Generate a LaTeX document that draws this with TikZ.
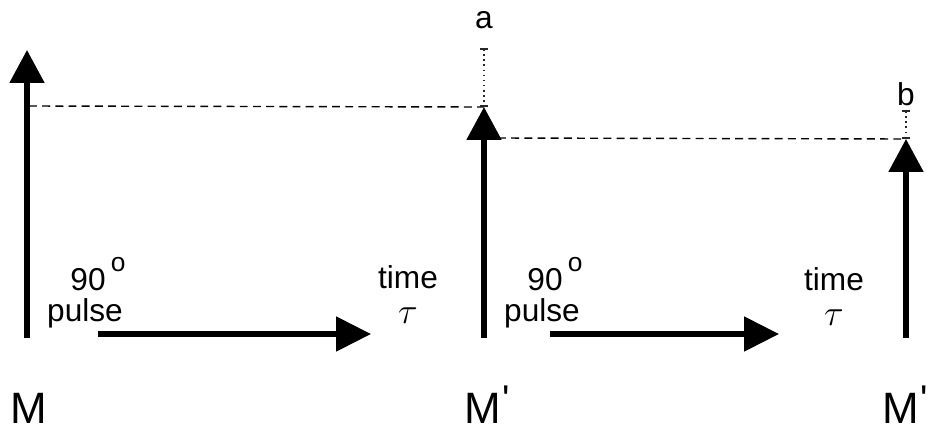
\documentclass[tikz,border=0pt]{standalone}
\usepackage{fontspec}
\setmainfont{Liberation Sans}
\usetikzlibrary{arrows.meta, positioning}
\tikzset{
    % magnetisation vectors
    marrow/.style={-{Triangle[length=6.6mm, width=6.8mm]}, line width=3pt, black},
    % pulse / delay arrows
    parrow/.style={-{Triangle[length=7mm, width=6.8mm]}, line width=3pt, black},
    % guides
    guide/.style={dash pattern=on 4.5pt off 3pt, line width=0.8pt, black},
    gapline/.style={dotted, line width=0.9pt, black!85, {Bar[width=1.6mm]}-{Bar[width=1.6mm]}},
    lbl/.style={font=\fontsize{18}{20}\selectfont, inner sep=0pt},
    mlbl/.style={font=\fontsize{25}{26}\selectfont, inner sep=0pt, anchor=base west},
}
\newcommand{\degsup}{\,\raisebox{1.15ex}{\fontsize{15}{15}\selectfont o}}
\newcommand{\mprime}{\kern1pt\raisebox{0.45ex}{\fontsize{22}{22}\selectfont\textquotesingle}}
\begin{document}
\begin{tikzpicture}[x=0.02cm, y=-0.02cm]
\useasboundingbox (0,0) rectangle (930,430);

% vectors
\coordinate (m0b) at (27,338);   \coordinate (m0t) at (27,50);
\coordinate (m1b) at (484,338);  \coordinate (m1t) at (484,107);
\coordinate (m2b) at (906,338);  \coordinate (m2t) at (906,139);
\draw[marrow] (m0b) -- (m0t);
\draw[marrow] (m1b) -- (m1t);
\draw[marrow] (m2b) -- (m2t);

% reference levels
\coordinate (l0) at (29,106);
\coordinate (l1) at (498,138);
\draw[guide] (l0) -- (m1t);
\draw[guide] (l1) -- (m2t);

% losses a and b
\coordinate (at) at (484,48);
\coordinate (bt) at (906,110);
\draw[gapline] (at) -- (m1t);
\draw[gapline] (bt) -- (m2t);
\node[lbl] (la) at (484,20) {a};
\node[lbl] (lb) at (906,94) {b};

% time arrows
\coordinate (p0s) at (98,334);   \coordinate (p0e) at (371,334);
\coordinate (p1s) at (550,334);  \coordinate (p1e) at (779,334);
\draw[parrow] (p0s) -- (p0e);
\draw[parrow] (p1s) -- (p1e);

% labels
\node[lbl] (deg0) at (98,274) {90\degsup};
\node[lbl] (pul0) at (85,313) {pulse};
\node[lbl] (tim0) at (408,277) {time};
\node[lbl] (tau0) at (408,316) {\fontsize{22}{22}\selectfont$\tau$};
\node[lbl] (deg1) at (555,274) {90\degsup};
\node[lbl] (pul1) at (542,313) {pulse};
\node[lbl] (tim1) at (834,279) {time};
\node[lbl] (tau1) at (834,318) {\fontsize{22}{22}\selectfont$\tau$};

\node[mlbl] (M0) at (10,423) {M};
\node[mlbl] (M1) at (464,423) {M\mprime};
\node[mlbl] (M2) at (882,423) {M\mprime};
\end{tikzpicture}
\end{document}
